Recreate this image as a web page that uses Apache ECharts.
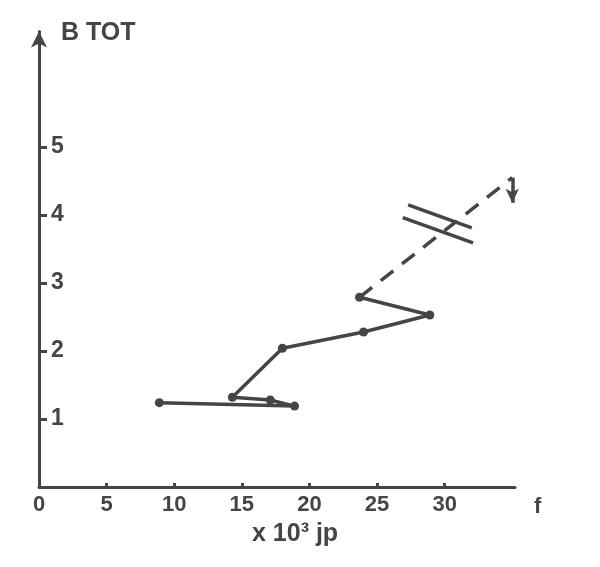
<!DOCTYPE html>
<html>
<head>
<meta charset="utf-8">
<script src="https://cdn.jsdelivr.net/npm/echarts@6/dist/echarts.min.js"></script>
<style>html,body{margin:0;padding:0;background:#fff;}#c{width:600px;height:567px;}</style>
</head>
<body>
<div id="c"></div>
<script>
// Solid trajectory (x = 10^3 jp, y = B TOT)
var solidX = [8.9, 18.9, 17.1, 14.3, 18.0, 24.0, 28.9, 23.7];
var solidY = [1.24, 1.19, 1.28, 1.32, 2.04, 2.28, 2.53, 2.79];
// Dashed continuation
var dashX = [23.7, 35.0];
var dashY = [2.79, 4.55];
// Downward arrow at end of dashed line
var arrowX = [35.0, 35.0];
var arrowY = [4.55, 4.18];
// Axis break marks (two parallel bars)
var break1X = [27.3, 32.0];
var break1Y = [4.15, 3.81];
var break2X = [26.9, 32.1];
var break2Y = [3.96, 3.59];
// Tick labels
var xTickValues = [0, 5, 10, 15, 20, 25, 30];
var xTickMarks = [5, 10, 15, 20, 25, 30];
var yTickValues = [1, 2, 3, 4, 5];

var ink = '#454545';
var font = 'Liberation Sans';

function pairs(xs, ys) { return xs.map(function (x, i) { return [x, ys[i]]; }); }

var chart = echarts.init(document.getElementById('c'), null, { renderer: 'canvas' });
chart.setOption({
  backgroundColor: '#fff',
  animation: false,
  grid: { left: 39, right: 85, top: 31.4, bottom: 80 },
  xAxis: {
    type: 'value', min: 0, max: 35.2, interval: 5,
    splitLine: { show: false },
    axisLine: { show: true, onZero: false, lineStyle: { color: ink, width: 3 } },
    axisTick: { show: true, inside: true, length: 4, customValues: xTickMarks, lineStyle: { color: ink, width: 3 } },
    axisLabel: { customValues: xTickValues, margin: 7, color: ink, fontFamily: font, fontWeight: 'bold', fontSize: 22 }
  },
  yAxis: {
    type: 'value', min: 0, max: 6.7, interval: 1,
    splitLine: { show: false },
    axisLine: { show: true, onZero: false, symbol: ['none', 'arrow'], symbolSize: [12, 16], lineStyle: { color: ink, width: 3 } },
    axisTick: { show: true, inside: true, length: 8, customValues: yTickValues, lineStyle: { color: ink, width: 3 } },
    axisLabel: { inside: true, customValues: yTickValues, margin: 12, padding: [0, 0, 14, 0], color: ink, fontFamily: font, fontWeight: 'bold', fontSize: 23 }
  },
  title: [
    { text: 'B TOT', left: 56, top: 16, textStyle: { color: ink, fontFamily: font, fontWeight: 'bold', fontSize: 25 } },
    { text: 'x 10³ jp', left: 247, top: 517, textStyle: { color: ink, fontFamily: font, fontWeight: 'bold', fontSize: 25 } },
    { text: 'f', left: 529, top: 491, textStyle: { color: ink, fontFamily: font, fontWeight: 'bold', fontSize: 22 } }
  ],
  series: [
    {
      type: 'line', data: pairs(solidX, solidY),
      symbol: 'circle', symbolSize: 9, showSymbol: true,
      itemStyle: { color: ink }, lineStyle: { color: ink, width: 3.5 }
    },
    {
      type: 'line', data: pairs(dashX, dashY),
      symbol: 'none',
      lineStyle: { color: ink, width: 3.5, type: [16, 11] },
      markLine: {
        silent: true, symbol: ['none', 'arrow'], symbolSize: [10, 14], label: { show: false },
        lineStyle: { color: ink, width: 3.5, type: 'solid' },
        data: [[{ coord: [arrowX[0], arrowY[0]] }, { coord: [arrowX[1], arrowY[1]] }]]
      }
    },
    {
      type: 'line', data: pairs(break1X, break1Y), symbol: 'none',
      lineStyle: { color: ink, width: 3.5 }
    },
    {
      type: 'line', data: pairs(break2X, break2Y), symbol: 'none',
      lineStyle: { color: ink, width: 3.5 }
    }
  ]
});
</script>
</body>
</html>
